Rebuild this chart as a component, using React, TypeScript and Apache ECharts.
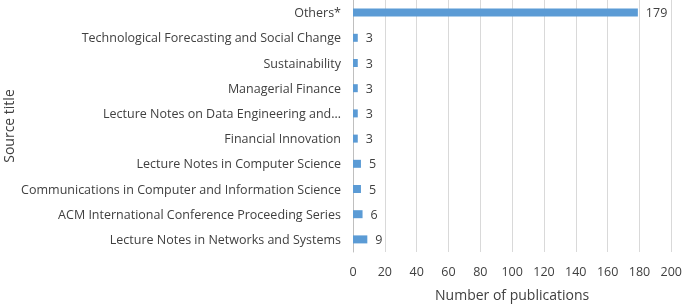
import React, { useEffect, useRef } from "react";
import * as echarts from "echarts";

const categories = [
  "Lecture Notes in Networks and Systems",
  "ACM International Conference Proceeding Series",
  "Communications in Computer and Information Science",
  "Lecture Notes in Computer Science",
  "Financial Innovation",
  "Lecture Notes on Data Engineering and…",
  "Managerial Finance",
  "Sustainability",
  "Technological Forecasting and Social Change",
  "Others*",
];
const values = [9, 6, 5, 5, 3, 3, 3, 3, 3, 179];
const xTicks = [0, 20, 40, 60, 80, 100, 120, 140, 160, 180, 200];

const FONT = "Open Sans";

export default function App() {
  const ref = useRef<HTMLDivElement>(null);
  useEffect(() => {
    if (!ref.current) return;
    const chart = echarts.init(ref.current, undefined, { renderer: "svg" });
    chart.setOption({
      animation: false,
      grid: { left: 353, top: 0, width: 321, height: 256, containLabel: false },
      xAxis: {
        type: "value",
        min: xTicks[0],
        max: xTicks[xTicks.length - 1],
        interval: 20,
        name: "Number of publications",
        nameLocation: "middle",
        nameGap: 35,
        nameTextStyle: { fontFamily: FONT, fontSize: 14, color: "#404040", verticalAlign: "top" },
        axisLine: { show: false },
        axisTick: { show: false },
        axisLabel: { fontFamily: FONT, fontSize: 12.5, color: "#404040", margin: 13 },
        splitLine: { show: true, lineStyle: { color: "#d9d9d9", width: 1 } },
      },
      yAxis: {
        type: "category",
        data: categories,
        name: "Source title",
        nameLocation: "middle",
        nameGap: 338,
        nameRotate: 90,
        nameTextStyle: { fontFamily: FONT, fontSize: 14, color: "#404040" },
        axisLine: { show: true, lineStyle: { color: "#bfbfbf" } },
        axisTick: { show: false },
        axisLabel: { fontFamily: FONT, fontSize: 12.5, color: "#404040", margin: 12 },
      },
      series: [
        {
          type: "bar",
          data: values,
          barWidth: 8,
          itemStyle: { color: "#5b9bd5" },
          label: {
            show: true,
            position: "right",
            distance: 8,
            fontFamily: FONT,
            fontSize: 12.5,
            color: "#404040",
          },
        },
      ],
    });
    return () => chart.dispose();
  }, []);
  return (
    <div
      ref={ref}
      style={{ position: "fixed", left: 0, top: 0, width: 685, height: 306 }}
    />
  );
}
